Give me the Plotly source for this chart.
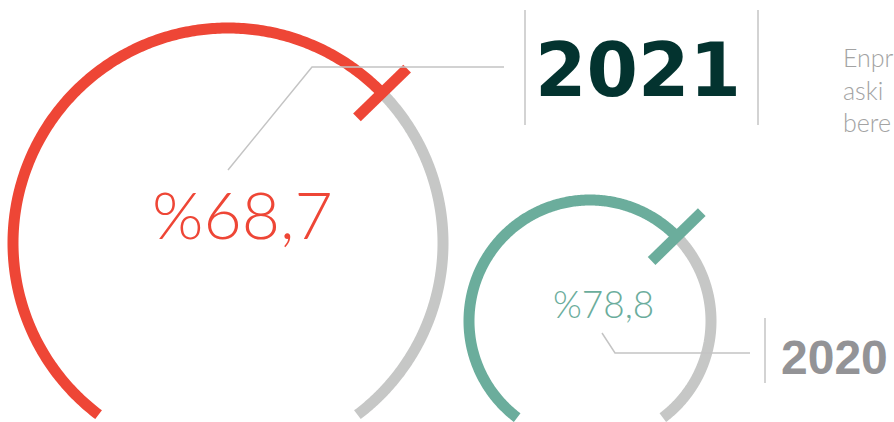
import numpy as np
import plotly.graph_objects as go

# values
years = ["2021", "2020"]
rates = [68.7, 78.8]
rate_labels = ["%68,7", "%78,8"]
fill_share = [0.66, 0.66]  # share of the ring drawn in colour (tick position)
side_text = ["Enpr", "aski", "bere"]

RED = "#EE4636"
TEAL = "#6BAD9C"
RING_GRAY = "#C6C7C6"
LINE_GRAY = "#C4C4C4"


def arc(cx, cy, r, a0, a1, n=300):
    t = np.radians(np.linspace(a0, a1, n))
    return cx + r * np.cos(t), cy - r * np.sin(t)


def add_line(fig, x, y, color, width):
    fig.add_trace(go.Scatter(x=x, y=y, mode="lines", hoverinfo="skip",
                             line=dict(color=color, width=width, simplify=False)))


def add_gauge(fig, cx, cy, r, share, color, width, gap=53):
    start = 180 + gap
    end = -gap
    mid = start - share * (start - end)
    x, y = arc(cx, cy, r, start, mid)
    add_line(fig, x, y, color, width)
    x, y = arc(cx, cy, r, mid, end)
    add_line(fig, x, y, RING_GRAY, width)
    # radial tick at the end of the coloured part
    t = np.radians(mid)
    rr = np.array([r - 35, r + 35])
    add_line(fig, cx + rr * np.cos(t), cy - rr * np.sin(t), color, width)


fig = go.Figure()
add_gauge(fig, 228, 243, 215, fill_share[0], RED, 11)
add_gauge(fig, 590, 321, 121, fill_share[1], TEAL, 11)

# connector lines
add_line(fig, [228, 312, 504], [170, 67, 67], LINE_GRAY, 1.5)
add_line(fig, [602, 615, 750], [333, 353, 353], LINE_GRAY, 1.5)
for xv, y0, y1 in [(525, 10, 125), (758, 10, 125), (765, 318, 383)]:
    fig.add_shape(type="line", x0=xv, x1=xv, y0=y0, y1=y1,
                  line=dict(color=LINE_GRAY, width=1.5))

fig.add_annotation(x=242, y=213, text=rate_labels[0], showarrow=False,
                   font=dict(family="Lato", size=66, color=RED, weight=300))
fig.add_annotation(x=603, y=303, text=rate_labels[1], showarrow=False,
                   font=dict(family="Lato", size=37, color=TEAL, weight=300))
fig.add_annotation(x=638, y=70, text="<b>" + years[0] + "</b>", showarrow=False,
                   font=dict(family="DejaVu Sans", size=74, color="#03332F"))
fig.add_annotation(x=779, y=357, text="<b>" + years[1] + "</b>", showarrow=False,
                   xanchor="left", font=dict(family="Liberation Sans", size=48, color="#939396"))
fig.add_annotation(x=841, y=89, text="<br>".join(side_text), showarrow=False,
                   xanchor="left", align="left",
                   font=dict(family="Lato", size=25, color="#A3A3A3", weight=300))

fig.update_layout(
    width=894, height=422,
    margin=dict(l=0, r=0, t=0, b=0),
    paper_bgcolor="white", plot_bgcolor="white",
    showlegend=False,
    xaxis=dict(range=[0, 894], visible=False, fixedrange=True),
    yaxis=dict(range=[422, 0], visible=False, fixedrange=True),
)
fig.write_html("out.html", config={"displayModeBar": False},
               post_script="document.body.style.margin='0';")
